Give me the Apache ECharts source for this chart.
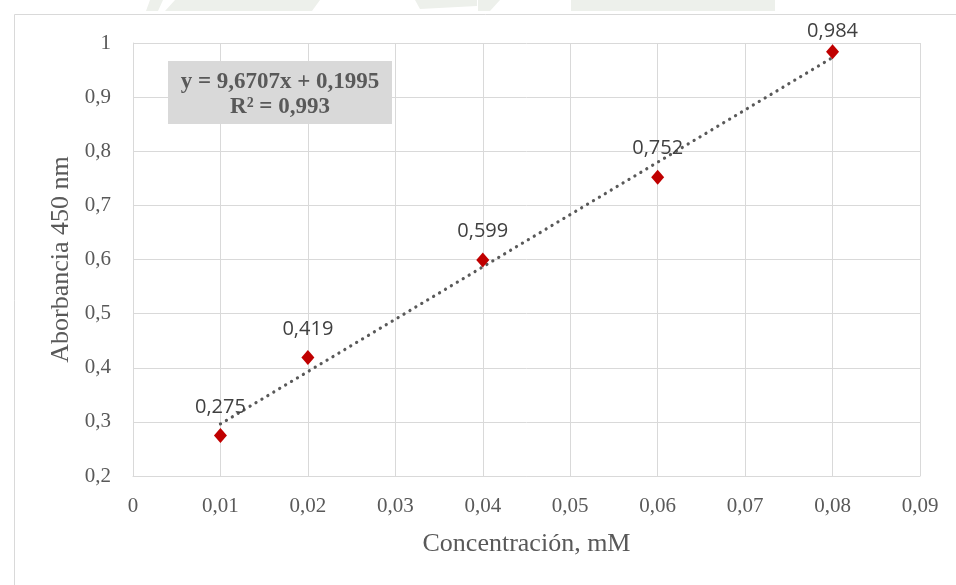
<!DOCTYPE html>
<html><head><meta charset="utf-8">
<script src="https://cdn.jsdelivr.net/npm/echarts@6/dist/echarts.min.js"></script>
<style>html,body{margin:0;padding:0;background:#fff}#c{width:956px;height:585px}</style>
</head><body><div id="c"></div>
<script>
const xValues = [0.01, 0.02, 0.04, 0.06, 0.08];
const yValues = [0.275, 0.419, 0.599, 0.752, 0.984];
const slope = 9.6707, intercept = 0.1995;
const trendX = [0.01, 0.08];
const xTickLabels = ['0','0,01','0,02','0,03','0,04','0,05','0,06','0,07','0,08','0,09'];
const equationText = 'y = 9,6707x + 0,1995';
const r2Text = 'R² = 0,993';
const xName = 'Concentración, mM';
const yName = 'Aborbancia 450 nm';

const fmt = v => String(v).replace('.', ',');
const points = xValues.map((x,i)=>({value:[x,yValues[i]], label:{distance: i===xValues.length-1?3:11}}));
const trend = trendX.map(x=>[x, slope*x+intercept]);

const chart = echarts.init(document.getElementById('c'), null, {renderer:'canvas'});
const serif = 'Liberation Serif';
const wm = '#edf0eb';
chart.setOption({
  animation:false,
  grid:{left:133, right:36, top:43, bottom:109},
  xAxis:{type:'value', min:0, max:0.09, interval:0.01,
    axisLine:{show:true, lineStyle:{color:'#d9d9d9', width:1}}, axisTick:{show:false},
    splitLine:{show:true, lineStyle:{color:'#d9d9d9', width:1}},
    axisLabel:{color:'#595959', fontFamily:serif, fontSize:21, margin:20,
      formatter:(v)=>xTickLabels[Math.round(v*100)]},
    name:xName, nameLocation:'middle', nameGap:55,
    nameTextStyle:{color:'#595959', fontFamily:serif, fontSize:26}},
  yAxis:{type:'value', min:0.2, max:1, interval:0.1,
    axisLine:{show:true, lineStyle:{color:'#d9d9d9', width:1}}, axisTick:{show:false},
    splitLine:{show:true, lineStyle:{color:'#d9d9d9', width:1}},
    axisLabel:{color:'#595959', fontFamily:serif, fontSize:21, margin:22,
      formatter:(v)=>fmt(Math.round(v*10)/10)},
    name:yName, nameLocation:'middle', nameGap:58,
    nameTextStyle:{color:'#595959', fontFamily:serif, fontSize:26}},
  graphic:[
    {type:'polygon', shape:{points:[[150,0],[163,0],[158,11],[146,11]]}, style:{fill:wm}, z:-2},
    {type:'polygon', shape:{points:[[175,0],[320,0],[312,11],[165,11]]}, style:{fill:wm}, z:-2},
    {type:'polygon', shape:{points:[[415,0],[477,0],[477,6],[420,9]]}, style:{fill:wm}, z:-2},
    {type:'polygon', shape:{points:[[478,0],[500,0],[490,11],[478,11]]}, style:{fill:wm}, z:-2},
    {type:'polygon', shape:{points:[[571,0],[775,0],[775,11],[571,11]]}, style:{fill:wm}, z:-2},
    {type:'rect', left:12, top:12, shape:{width:1000, height:600}, style:{fill:'none', stroke:'#d9d9d9', lineWidth:1}, z:-1},
    {type:'group', left:168, top:61, z:100, children:[
      {type:'rect', shape:{x:0,y:0,width:224,height:63}, style:{fill:'#d9d9d9'}, z:100},
      {type:'text', x:112, y:21, z:101, style:{text:equationText, align:'center', verticalAlign:'middle', fill:'#595959', font:'bold 23px "Liberation Serif"'}},
      {type:'text', x:112, y:46, z:101, style:{text:r2Text, align:'center', verticalAlign:'middle', fill:'#595959', font:'bold 23px "Liberation Serif"'}}
    ]}
  ],
  series:[
    {type:'line', data:trend, symbol:'none', silent:true, z:2,
      lineStyle:{color:'#595959', width:3.2, type:[0.1,6.8], cap:'round'}},
    {type:'scatter', data:points, symbol:'diamond', symbolSize:[13,15], z:3,
      itemStyle:{color:'#c00000', opacity:1},
      label:{show:true, position:'top', color:'#404040', fontFamily:'Open Sans', fontSize:20,
        formatter:(p)=>fmt(p.value[1])}}
  ]
});
</script></body></html>
